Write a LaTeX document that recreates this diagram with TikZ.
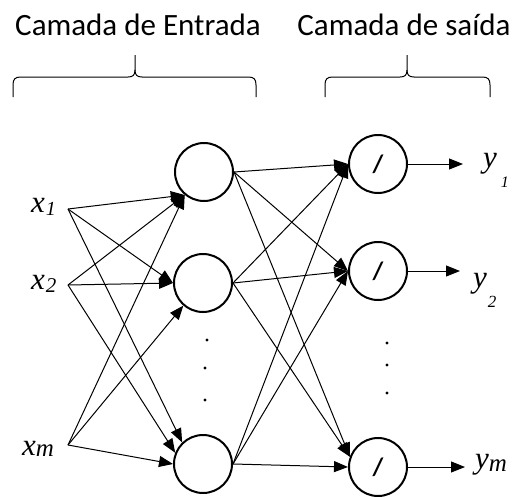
\documentclass[tikz,border=0pt]{standalone}
\usepackage{fontspec}
\setmainfont{Carlito}
\newfontfamily\tnr{Liberation Serif}
\usetikzlibrary{arrows.meta}

\begin{document}
\begin{tikzpicture}[x=1pt,y=-1pt,
  neuron/.style={circle,draw,line width=2pt,minimum size=58pt,inner sep=0pt},
  outneuron/.style={neuron,font=\bfseries\fontsize{25}{25}\selectfont},
  link/.style={line width=1pt,-{Triangle[length=14pt,width=11pt]}},
  brace/.style={line width=1pt},
  title/.style={font=\fontsize{31}{31}\selectfont,anchor=base,inner sep=0pt},
  lbl/.style={font=\tnr\itshape\fontsize{31}{31}\selectfont,inner sep=0pt,anchor=base west},
  dot/.style={fill=black}]
\useasboundingbox (0,0) rectangle (517,496);

% layer titles
\node[title] (tin)  at (138,35) {Camada de Entrada};
\node[title] (tout) at (404,35) {Camada de saída};

% braces under the titles
\draw[brace] (13,97) -- (13,85) .. controls (13,79) and (15,77) .. (21,77) -- (128,77)
  .. controls (133,77) and (135,75) .. (135,70) -- (135,55);
\draw[brace] (135,70) .. controls (135,75) and (137,77) .. (142,77) -- (248,77)
  .. controls (254,77) and (256,79) .. (256,85) -- (256,97);
\draw[brace] (325,97) -- (325,85) .. controls (325,79) and (327,77) .. (333,77) -- (400,77)
  .. controls (405,77) and (407,75) .. (407,70) -- (407,55);
\draw[brace] (407,70) .. controls (407,75) and (409,77) .. (414,77) -- (482,77)
  .. controls (488,77) and (490,79) .. (490,85) -- (490,97);

% hidden (input) layer
\node[neuron] (h1) at (204,172) {};
\node[neuron] (h2) at (203,283) {};
\node[neuron] (h3) at (203,464) {};

% output layer
\node[outneuron] (o1) at (378,164) {/};
\node[outneuron] (o2) at (378,271) {/};
\node[outneuron] (o3) at (378,467) {/};

% ellipsis dots
\fill[dot] (207,340) circle (1.7);
\fill[dot] (205,368) circle (1.7);
\fill[dot] (205,400) circle (1.7);
\fill[dot] (387,343) circle (1.7);
\fill[dot] (387,365) circle (1.7);
\fill[dot] (387,393) circle (1.7);

% inputs
\coordinate (i1) at (68,209);
\coordinate (i2) at (68,285);
\coordinate (im) at (68,445);
\node[lbl] (x1) at (31,212) {x\kern1pt\raisebox{-3pt}{\fontsize{20}{20}\selectfont 1}};
\node[lbl] (x2) at (31,289) {x\kern1pt\raisebox{-3pt}{\fontsize{21}{21}\selectfont 2}};
\node[lbl] (xm) at (22,455) {x\raisebox{-1pt}{\fontsize{25}{25}\selectfont m}};

% input connections
\draw[link] (i1) -- (h1.230);
\draw[link] (i1) -- (h2.180);
\draw[link] (i1) -- (h3.134);
\draw[link] (i2) -- (h1.230);
\draw[link] (i2) -- (h2.180);
\draw[link] (i2) -- (h3.158);
\draw[link] (im) -- (h1.230);
\draw[link] (im) -- (h2.229);
\draw[link] (im) -- (h3.180);

% hidden to output connections
\draw[link] (h1.east) -- (o1.west);
\draw[link] (h1.east) -- (o2.west);
\draw[link] (h1.east) -- (o3.160);
\draw[link] (h2.east) -- (o1.west);
\draw[link] (h2.east) -- (o2.west);
\draw[link] (h2.east) -- (o3.160);
\draw[link] (h3.east) -- (o1.west);
\draw[link] (h3.east) -- (o2.west);
\draw[link] (h3.east) -- (o3.west);

% outputs
\coordinate (t1) at (463,164);
\coordinate (t2) at (460,271);
\coordinate (t3) at (465,467);
\draw[link] (o1.east) -- (t1);
\draw[link] (o2.east) -- (t2);
\draw[link] (o3.east) -- (t3);
\node[lbl] (y1) at (483,167) {y\kern4pt\raisebox{-20pt}{\fontsize{16}{16}\selectfont 1}};
\node[lbl] (y2) at (473,287) {y\kern1pt\raisebox{-20pt}{\fontsize{17}{17}\selectfont 2}};
\node[lbl] (ym) at (475,468) {y\raisebox{-3pt}{\fontsize{25}{25}\selectfont m}};
\end{tikzpicture}
\end{document}
